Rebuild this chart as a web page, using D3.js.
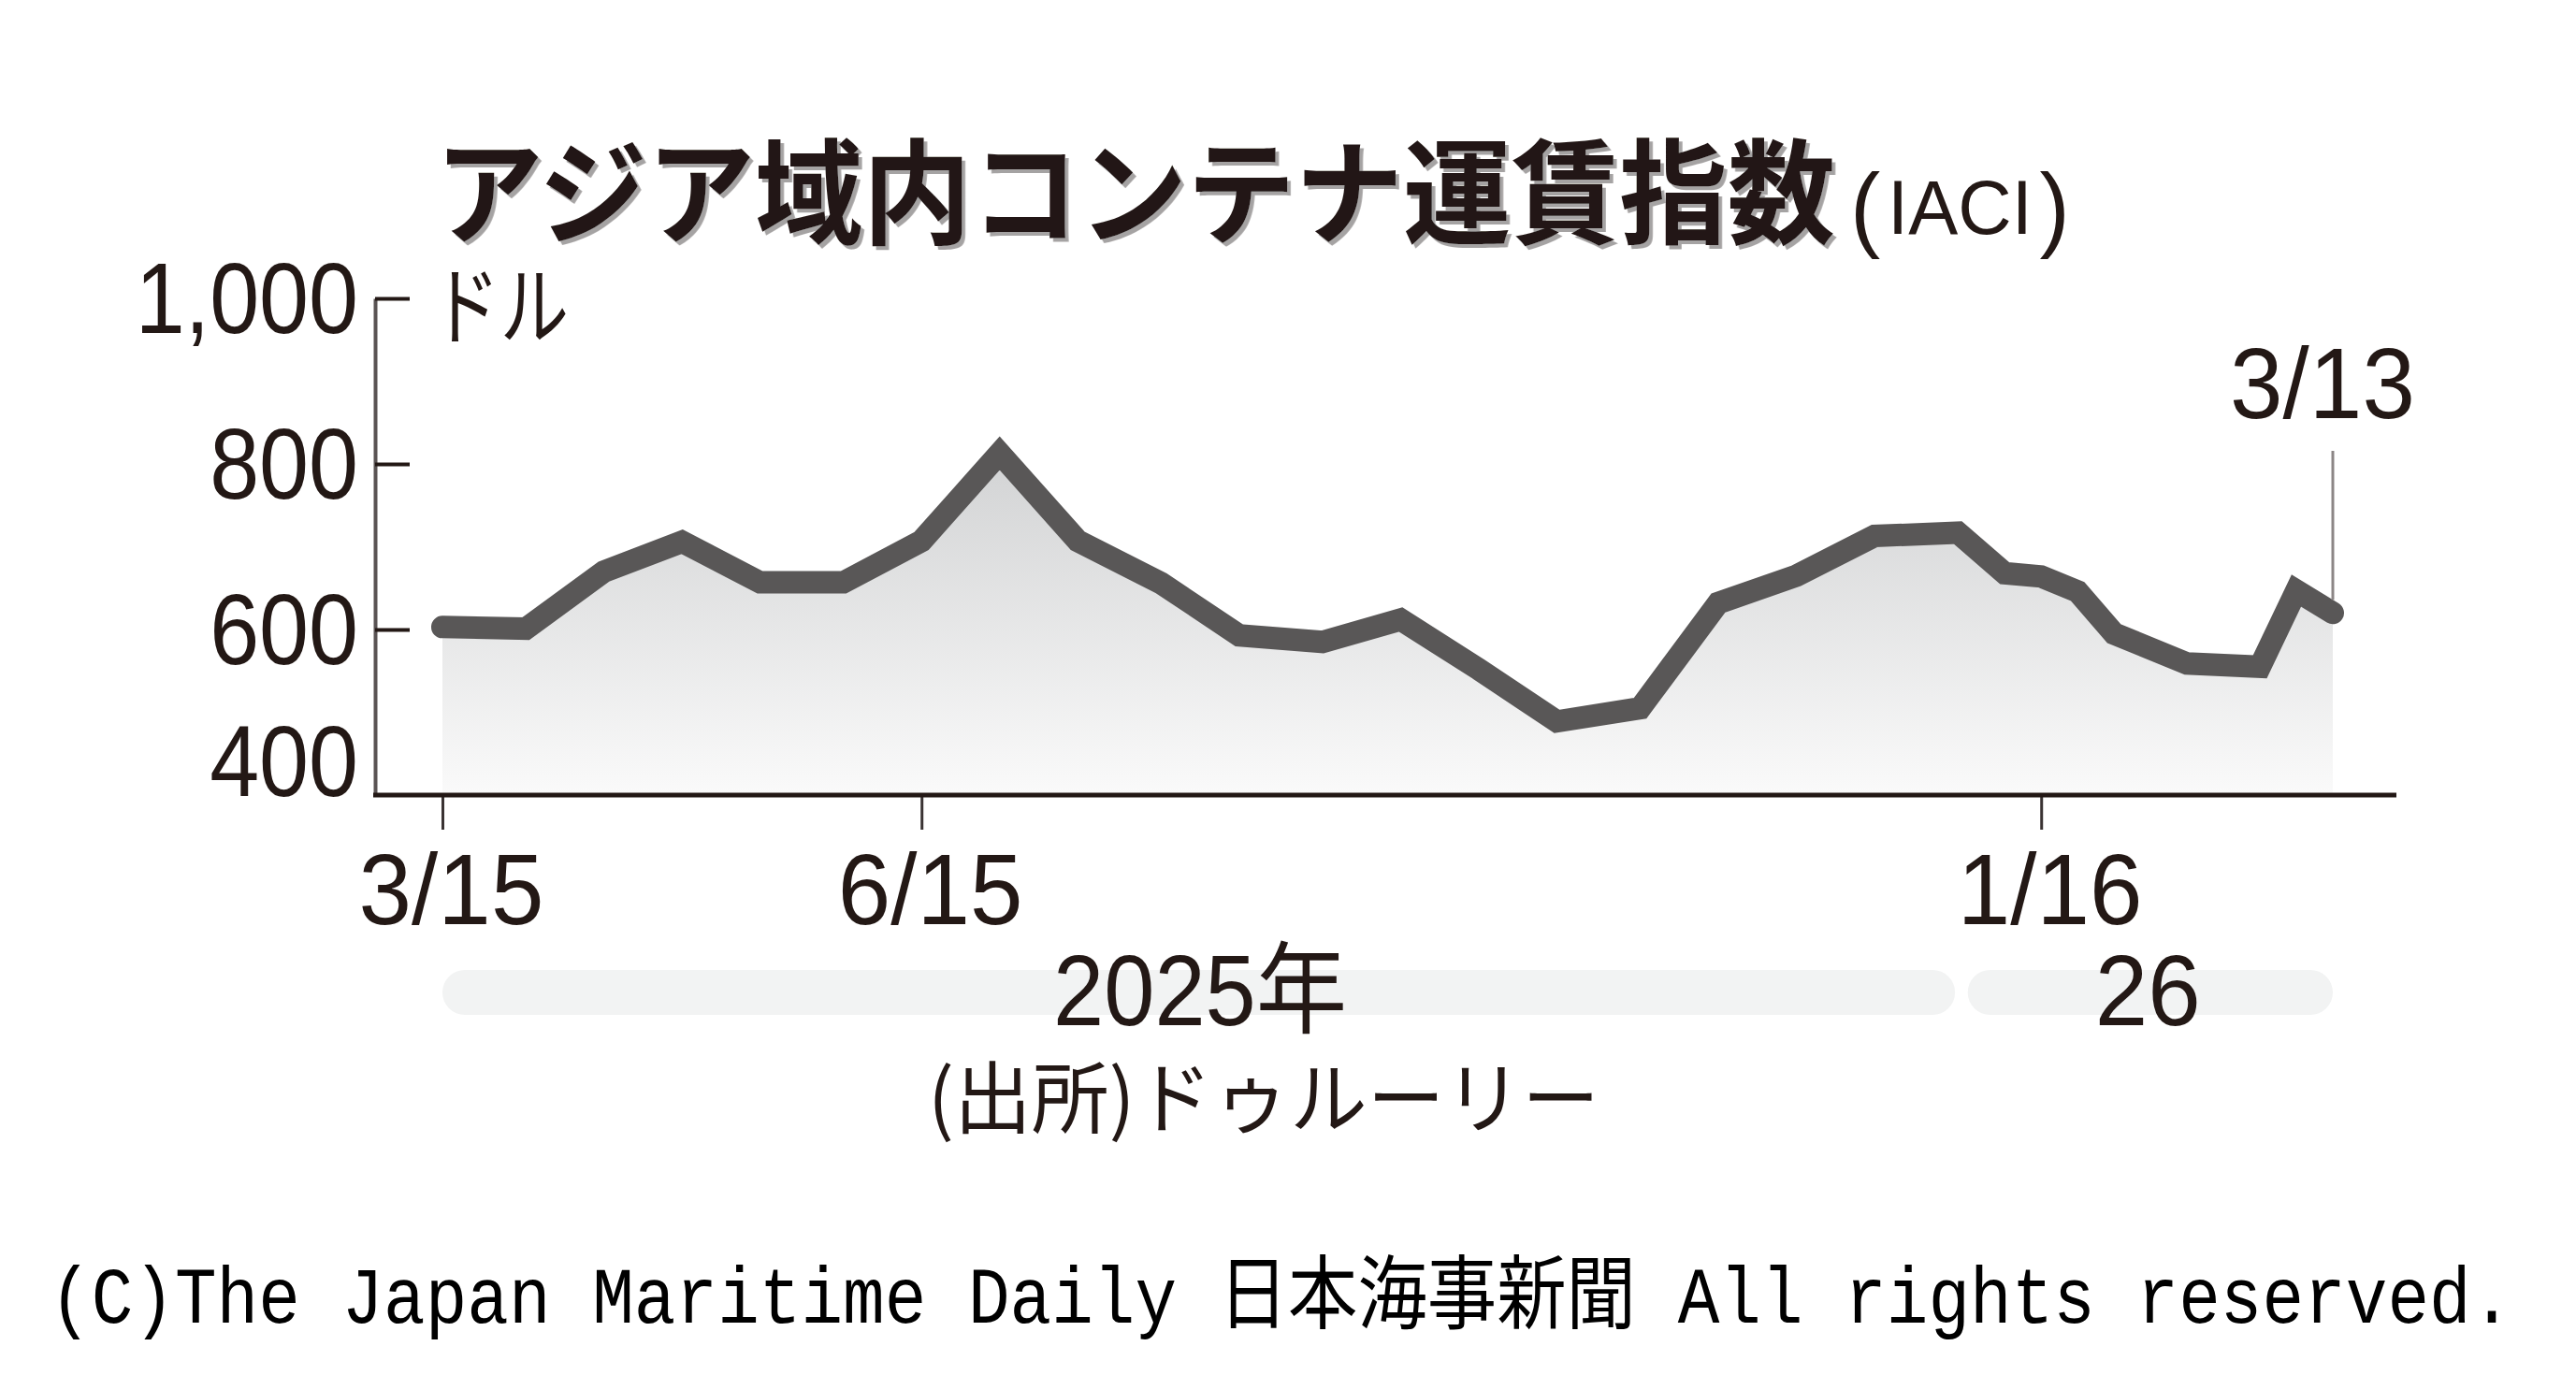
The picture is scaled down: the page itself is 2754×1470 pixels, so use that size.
<!DOCTYPE html>
<html><head><meta charset="utf-8">
<script src="https://cdn.jsdelivr.net/npm/d3@7"></script>
<style>html,body{margin:0;padding:0;background:#fff;} svg{display:block}</style>
</head><body>
<svg id="c" width="2754" height="1470"></svg>
<script>
// ---- data ----
const dates = ["2025-03-15","2025-03-31","2025-04-15","2025-04-30","2025-05-15","2025-05-31",
  "2025-06-15","2025-06-30","2025-07-15","2025-07-31","2025-08-15","2025-08-31","2025-09-15",
  "2025-09-30","2025-10-15","2025-10-31","2025-11-15","2025-11-30","2025-12-15","2025-12-31",
  "2026-01-09","2026-01-16","2026-01-23","2026-01-30","2026-02-13","2026-02-27","2026-03-06","2026-03-13"];
const values = [603,601,670,706,657,657,707,813,707,656,593,585,612,552,489,505,632,665,713,717,
  668,664,646,595,559,555,647,620];
const yTicks = [400,600,800,1000];
const yTickLabels = ["400","600","800","1,000"];
const xTickDates = ["2025-03-15","2025-06-15","2026-01-16"];
const xTickLabels = ["3/15","6/15","1/16"];
const yearLabels = ["2025年","26"];
const yearStarts = ["2025-03-15","2026-01-01"];
const yearEnds = ["2025-12-31","2026-03-13"];
const titleText = "アジア域内コンテナ運賃指数";
const titleSub = ["(","IACI",")"];
const unitText = "ドル";
const lastLabel = "3/13";
const sourceText = "(出所)ドゥルーリー";
const copyrightText = "(C)The Japan Maritime Daily 日本海事新聞 All rights reserved.";

// ---- setup ----
const parse = d3.utcParse("%Y-%m-%d");
const data = dates.map((d,i)=>({date:parse(d), value:values[i]}));
const svg = d3.select("#c");
const INK = "#231815";
const LINE = "#595757";
const NUM = "'Liberation Sans', Arial, 'Noto Sans CJK JP', sans-serif";
const JP = "'Noto Sans CJK JP', sans-serif";

const x = d3.scaleUtc().domain([data[0].date, data[data.length-1].date]).range([473, 2494]);
const y = d3.scaleLinear().domain([400,1000]).range([850,319]);
const axisLeftX = 401, axisRightX = 2562;

const defs = svg.append("defs");
const grad = defs.append("linearGradient").attr("id","ag").attr("x1",0).attr("y1",0).attr("x2",0).attr("y2",1);
grad.append("stop").attr("offset","0%").attr("stop-color","#d2d3d4");
grad.append("stop").attr("offset","100%").attr("stop-color","#fafafa");
const shadow = defs.append("filter").attr("id","sh").attr("x","-5%").attr("y","-20%").attr("width","110%").attr("height","140%");
shadow.append("feDropShadow").attr("dx",4).attr("dy",4).attr("stdDeviation",0.6)
  .attr("flood-color","#8f8b8b").attr("flood-opacity",0.8);

// area
const area = d3.area().x(d=>x(d.date)).y0(y(400)).y1(d=>y(d.value));
svg.append("path").datum(data).attr("d",area).attr("fill","url(#ag)");

// y axis
const yAxis = d3.axisLeft(y).tickValues(yTicks.filter(v=>v!==400)).tickSize(-37).tickSizeOuter(0).tickPadding(0)
  .tickFormat(v=>yTickLabels[yTicks.indexOf(v)]);
const gy = svg.append("g").attr("transform",`translate(${axisLeftX},0)`).call(yAxis);
gy.select(".domain").attr("stroke","#5a5454").attr("stroke-width",4);
gy.selectAll(".tick line").attr("stroke",INK).attr("stroke-width",4);
gy.selectAll(".tick text").remove();
svg.append("g").selectAll("text").data(yTicks).join("text")
  .attr("transform",v=>`translate(${axisLeftX-18},${v===400 ? y(v)+1 : y(v)+37}) scale(0.89,1)`)
  .attr("text-anchor","end").attr("font-family",NUM).attr("font-size",107).attr("fill",INK)
  .text((v,i)=>yTickLabels[i]);

// unit label
svg.append("text").attr("transform",`translate(${axisLeftX+60},${y(1000)+2}) scale(0.8,1)`).attr("dominant-baseline","central")
  .attr("font-family",JP).attr("font-size",92).attr("fill",INK).text(unitText);

// x axis
const xAxis = d3.axisBottom(x).tickValues(xTickDates.map(parse)).tickSize(37).tickSizeOuter(0)
  .tickFormat((d,i)=>xTickLabels[i]);
const gx = svg.append("g").attr("transform",`translate(0,${y(400)})`).call(xAxis);
gx.select(".domain").remove();
gx.selectAll(".tick line").attr("stroke","#3a3333").attr("stroke-width",3);
gx.selectAll(".tick text").attr("y",0).attr("dy",0)
  .attr("transform","translate(9,138) scale(0.95,1)")
  .attr("font-family",NUM).attr("font-size",107).attr("fill",INK);
svg.append("line").attr("x1",axisLeftX-2).attr("x2",axisRightX).attr("y1",y(400)).attr("y2",y(400))
  .attr("stroke",INK).attr("stroke-width",5);

// line
const line = d3.line().x(d=>x(d.date)).y(d=>y(d.value));
svg.append("path").datum(data).attr("d",line).attr("fill","none").attr("stroke",LINE)
  .attr("stroke-width",24).attr("stroke-linejoin","miter").attr("stroke-miterlimit",6).attr("stroke-linecap","round");

// last point leader + label
const last = data[data.length-1];
svg.append("line").attr("x1",x(last.date)).attr("x2",x(last.date)).attr("y1",482).attr("y2",y(last.value)-14)
  .attr("stroke","#8c8686").attr("stroke-width",3);
svg.append("text").attr("transform",`translate(${x(last.date)-11},447) scale(0.95,1)`).attr("text-anchor","middle")
  .attr("font-family",NUM).attr("font-size",107).attr("fill",INK).text(lastLabel);

// year bands
const bands = yearLabels.map((l,i)=>({label:l, s:parse(yearStarts[i]), e:parse(yearEnds[i])}));
const gb = svg.append("g");
gb.selectAll("rect").data(bands).join("rect")
  .attr("x",(d,i)=>x(d.s)+(i?5:0)).attr("width",(d,i)=>x(d.e)-x(d.s)-(i?5:3))
  .attr("y",1037).attr("height",48).attr("rx",24).attr("fill","#f2f3f3");
gb.selectAll("text").data(bands).join("text")
  .attr("transform",d=>`translate(${(x(d.s)+x(d.e))/2},1096) scale(${d.label.length>2?0.91:0.95},1)`)
  .attr("text-anchor","middle")
  .attr("font-family",NUM).attr("font-size",107).attr("fill",INK)
  .text(d=>d.label);

// source
svg.append("text").attr("transform","translate(992,1168)").attr("dominant-baseline","central")
  .attr("font-family",JP).attr("font-size",84).attr("fill",INK)
  .attr("textLength",718).attr("lengthAdjust","spacingAndGlyphs").text(sourceText);

// title
svg.append("text").attr("transform","translate(465,198) scale(0.947,1)").attr("dominant-baseline","central")
  .attr("font-family",JP).attr("font-weight",700).attr("font-size",122).attr("fill",INK)
  .attr("filter","url(#sh)").text(titleText);
const sub = svg.append("text").attr("transform","translate(1978,250) scale(0.97,1)")
  .attr("font-family",NUM).attr("fill",INK);
sub.selectAll("tspan").data(titleSub).join("tspan")
  .attr("font-size",(d,i)=>i===1?82:100).attr("dy",(d,i)=>i===0?6:(i===1?-6:6))
  .attr("dx",(d,i)=>i===0?0:8)
  .text(d=>d);

// copyright (condensed by transform so its box matches what is drawn)
svg.append("text").attr("transform","translate(53,1414) scale(0.865,1)")
  .attr("font-family","'Liberation Mono', 'Noto Sans CJK JP', monospace").attr("font-size",86).attr("fill","#000")
  .text(copyrightText);
</script>
</body></html>
